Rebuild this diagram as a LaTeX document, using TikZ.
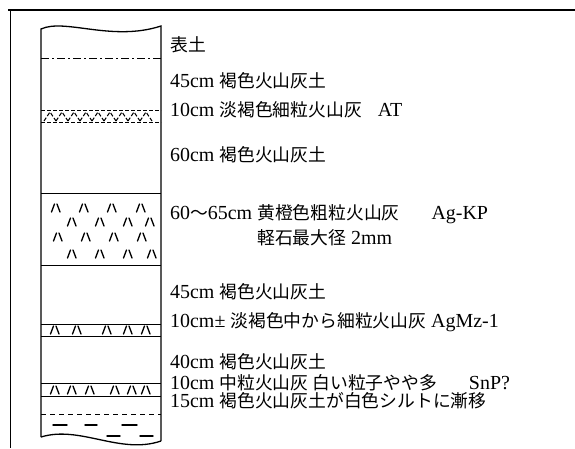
\documentclass[tikz,border=0pt]{standalone}
\usepackage{fontspec}
\setmainfont[Scale=1.12]{Liberation Serif}
\newfontfamily\jp{Noto Sans CJK JP}
\usetikzlibrary{positioning}

\begin{document}
\begin{tikzpicture}[
  x=1pt, y=-1pt,
  lbl/.style={anchor=base west, inner sep=0pt, text height=13pt, text depth=2pt,
    font=\fontsize{17.8}{20}\selectfont},
  col/.style={line width=1.3pt},
  bed/.style={line width=0.9pt},
  tuff/.style={line width=1pt, dash pattern=on 4pt off 2pt},
  silt/.style={line width=1.4pt, line cap=round},
  pumice/.pic={\draw[line width=1.3pt, line cap=round] (-4.5,4) -- (-1.5,-4) (1,-4) -- (4,4);}
]
\useasboundingbox (0,0) rectangle (575,448);

% frame
\draw[line width=1.4pt] (8,10) -- (575,10);
\draw[line width=0.8pt] (10,10) -- (10,448);

% column outline with broken top and bottom
\draw[col] (41,437) -- (41,29) .. controls (65,18) and (112,42) .. (161,26) -- (161,441);
\draw[col] (41,437) .. controls (80,425) and (120,455) .. (161,441);

% topsoil base
\draw[bed, dash pattern=on 8pt off 3pt on 2pt off 3pt] (41,58) -- (161,58);

% AT fine ash
\draw[tuff] (41,110) -- (161,110);
\draw[tuff] (41,122) -- (161,122);
\foreach \x in {44,56,...,148}
  \draw[tuff] (\x,121) -- ({\x+6},112) -- ({\x+12},121);

% Ag-KP coarse ash with pumice
\draw[bed] (41,193) -- (161,193);
\draw[bed] (41,265) -- (161,265);
\foreach \x in {56,84,112,141} \pic at (\x,208) {pumice};
\foreach \x in {72,100,128,150} \pic at (\x,222) {pumice};
\foreach \x in {58,86,114,142} \pic at (\x,237) {pumice};
\foreach \x in {72,100,128,152} \pic at (\x,254) {pumice};

% AgMz-1
\draw[bed] (41,324) -- (161,324);
\draw[bed] (41,336) -- (161,336);
\foreach \x in {55,77,107,128,146} \pic at (\x,330) {pumice};

% SnP?
\draw[bed] (41,383) -- (161,383);
\draw[bed] (41,396) -- (161,396);
\foreach \x in {55,72,90,115,132,146} \pic at (\x,390) {pumice};

% silt
\draw[bed, dash pattern=on 5pt off 4pt] (41,414) -- (161,414);
\foreach \a/\b in {53/67,85/97,122/137} \draw[silt] (\a,425) -- (\b,425);
\foreach \a/\b in {107/120,140/153} \draw[silt] (\a,436) -- (\b,436);

% descriptions
\node[lbl] (topsoil) at (170,51) {\jp 表土};
\node[lbl] (brown1) at (170,87) {45cm {\jp 褐色火山灰土}};
\node[lbl] (at) at (170,116) {10cm {\jp 淡褐色細粒火山灰}\hspace{0.8em}AT};
\node[lbl] (brown2) at (170,161) {60cm {\jp 褐色火山灰土}};
\node[lbl] (agkp) at (170,219) {60{\jp ～}65cm {\jp 黄橙色粗粒火山灰}\hspace{1.6em}Ag-KP};
\node[lbl] (pumsize) at (170,244) {\phantom{60{\jp ～}65cm }{\jp 軽石最大径} 2mm};
\node[lbl] (brown3) at (170,298) {45cm {\jp 褐色火山灰土}};
\node[lbl] (agmz) at (170,327) {10cm±\ {\jp 淡褐色中から細粒火山灰} AgMz-1};
\node[lbl] (brown4) at (170,368) {40cm {\jp 褐色火山灰土}};
\node[lbl] (snp) at (170,389) {10cm {\jp 中粒火山灰 白い粒子やや多}\hspace{1.6em}SnP?};
\node[lbl] (silt) at (170,407.5) {15cm {\jp 褐色火山灰土が白色シルトに漸移}};
\end{tikzpicture}
\end{document}
